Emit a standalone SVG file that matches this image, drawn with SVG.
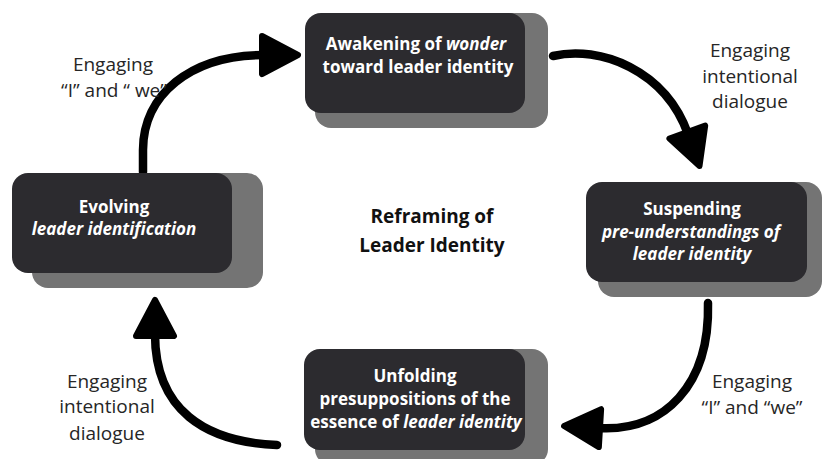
<svg xmlns="http://www.w3.org/2000/svg" width="823" height="459" viewBox="0 0 823 459">
  <style>
    .shadow { fill: #747474; }
    .card { fill: #2c2b2f; }
    .node-text { font-family: "Open Sans", "Liberation Sans", sans-serif; font-weight: 700; font-size: 17px; fill: #ffffff; text-anchor: middle; }
    .label { font-family: "Open Sans", "Liberation Sans", sans-serif; font-weight: 400; font-size: 19px; fill: #262626; text-anchor: middle; }
    .title { font-family: "Open Sans", "Liberation Sans", sans-serif; font-weight: 700; font-size: 19px; fill: #111111; text-anchor: middle; }
    .flow { fill: none; stroke: #000000; stroke-width: 8.5; stroke-linecap: round; marker-end: url(#head); }
    .it { font-style: italic; }
  </style>
  <defs>
    <marker id="head" markerUnits="userSpaceOnUse" viewBox="0 0 46 46" markerWidth="46" markerHeight="46" refX="6" refY="23" orient="auto">
      <path d="M4,4 L40,23 L4,42 Z" fill="#000" stroke="#000" stroke-width="6" stroke-linejoin="round"/>
    </marker>
  </defs>

  <rect width="823" height="459" fill="#ffffff"/>

  <!-- cycle connectors -->
  <g id="connectors">
    <path class="flow" d="M143,172 L143,150 C143,95 190,55 264,55"/>
    <path class="flow" d="M553,56 C600,45 665,70 688,134"/>
    <path class="flow" d="M708,303 C710,385 665,432 598,428"/>
    <path class="flow" d="M277,445 C205,442 155,410 155,334"/>
  </g>

  <!-- connector labels -->
  <g id="labels">
    <text class="label" x="113" y="71">Engaging</text>
    <text class="label" x="114" y="97">“I” and “ we”</text>
    <text class="label" x="750" y="57">Engaging</text>
    <text class="label" x="750" y="83">intentional</text>
    <text class="label" x="750" y="108">dialogue</text>
    <text class="label" x="752" y="388">Engaging</text>
    <text class="label" x="752" y="414">“I” and “we”</text>
    <text class="label" x="107" y="388">Engaging</text>
    <text class="label" x="107" y="413">intentional</text>
    <text class="label" x="107" y="440">dialogue</text>
  </g>

  <g id="node-awakening">
    <rect class="shadow" x="315" y="13" width="233" height="115" rx="16"/>
    <rect class="card" x="305" y="13" width="220" height="100" rx="16"/>
    <text class="node-text" x="416" y="50">Awakening of <tspan class="it">wonder</tspan></text>
    <text class="node-text" x="418" y="73">toward leader identity</text>
  </g>

  <g id="node-suspending">
    <rect class="shadow" x="598" y="182" width="224" height="115" rx="16"/>
    <rect class="card" x="586" y="182" width="221" height="100" rx="16"/>
    <text class="node-text" x="692" y="215">Suspending</text>
    <text class="node-text it" x="691" y="238">pre-understandings of</text>
    <text class="node-text it" x="692" y="260">leader identity</text>
  </g>

  <g id="node-unfolding">
    <rect class="shadow" x="315" y="349" width="233" height="116" rx="16"/>
    <rect class="card" x="304" y="349" width="221" height="101" rx="16"/>
    <text class="node-text" x="415" y="382">Unfolding</text>
    <text class="node-text" x="415" y="405">presuppositions of the</text>
    <text class="node-text" x="416" y="428">essence of <tspan class="it">leader identity</tspan></text>
  </g>

  <g id="node-evolving">
    <rect class="shadow" x="32" y="173" width="231" height="115" rx="16"/>
    <rect class="card" x="12" y="173" width="220" height="100" rx="16"/>
    <text class="node-text" x="114" y="213">Evolving</text>
    <text class="node-text it" x="114" y="235">leader identification</text>
  </g>

  <g id="center-title">
    <text class="title" x="432" y="223">Reframing of</text>
    <text class="title" x="432" y="252">Leader Identity</text>
  </g>
</svg>
